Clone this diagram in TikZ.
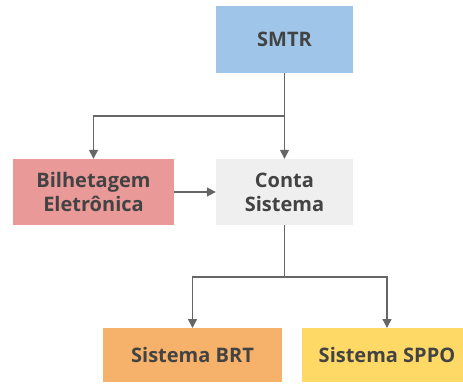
\documentclass[tikz,border=0pt]{standalone}
\usepackage{fontspec}
\setmainfont{Open Sans}
\usetikzlibrary{arrows.meta}
\definecolor{cblue}{HTML}{9FC5E8}
\definecolor{cred}{HTML}{EA9999}
\definecolor{cgray}{HTML}{EFEFEF}
\definecolor{corange}{HTML}{F6B26B}
\definecolor{cyellow}{HTML}{FFD966}
\definecolor{ctext}{HTML}{434343}
\definecolor{cline}{HTML}{666666}
\tikzset{
  box/.style={rectangle, inner sep=0pt, align=center, text=ctext,
    font=\fontsize{20}{24}\selectfont\bfseries},
  conn/.style={draw=cline, line width=1.4pt, -{Triangle[length=9pt,width=9pt]}},
}
\begin{document}
\begin{tikzpicture}[x=1pt,y=1pt]
\useasboundingbox (0,0) rectangle (463,384);
\begin{scope}
\clip (0,0) rectangle (463,384);
\node[box, fill=cblue, minimum width=137pt, minimum height=67pt] (smtr) at (284.5,344.5) {SMTR};
\node[box, fill=cred, minimum width=161pt, minimum height=66pt] (bil) at (93.5,192) {Bilhetagem\\Eletrônica};
\node[box, fill=cgray, minimum width=137pt, minimum height=66pt] (conta) at (284.5,192) {Conta\\Sistema};
\node[box, fill=corange, minimum width=179pt, minimum height=54pt, anchor=north] (brt) at (192.5,56) {Sistema BRT};
\node[box, fill=cyellow, minimum width=170pt, minimum height=54pt, anchor=north] (sppo) at (387,56) {Sistema SPPO};
\coordinate (j1) at (284.5,268);
\coordinate (j2) at (284.5,107);
\draw[draw=cline, line width=1.4pt] (smtr.south) -- (j1);
\draw[conn] (j1) -- (conta.north);
\draw[conn] (j1) -| (bil.north);
\draw[conn] (bil.east) -- (conta.west);
\draw[draw=cline, line width=1.4pt] (conta.south) -- (j2);
\draw[conn] (j2) -| (brt.north);
\draw[conn] (j2) -| (sppo.north);
\end{scope}
\end{tikzpicture}
\end{document}
